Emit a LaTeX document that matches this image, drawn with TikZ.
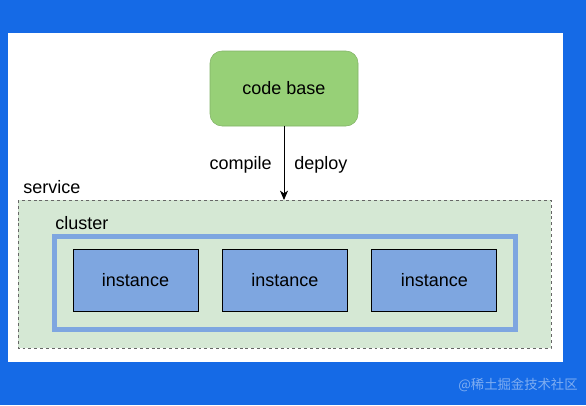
\documentclass[tikz,border=0pt]{standalone}
\usepackage{fontspec}
\setmainfont{Liberation Sans}
\newfontfamily\cjk{Noto Sans CJK SC}
\usetikzlibrary{arrows.meta,positioning}

\definecolor{bgblue}{RGB}{21,106,230}
\definecolor{codegreen}{HTML}{97D077}
\definecolor{codeline}{HTML}{82B366}
\definecolor{svcgreen}{HTML}{D5E8D4}
\definecolor{instblue}{HTML}{7EA6E0}

\tikzset{
	txt/.style={inner sep=0pt, font=\fontsize{13.5}{16}\selectfont},
	codebox/.style={draw=codeline, fill=codegreen, rounded corners=9pt, minimum width=111pt, minimum height=56.25pt, txt},
	instbox/.style={draw=black, line width=0.75pt, fill=instblue, minimum width=93.75pt, minimum height=46.5pt, txt},
}

\begin{document}
\begin{tikzpicture}[x=0.75pt,y=0.75pt,yscale=-1,xscale=1]
	%set diagram size 586 x 405
	\fill [bgblue] (0,0) rectangle (586,405);
	\useasboundingbox (0,0) rectangle (586,405);

	% White sheet
	\fill [white] (8,33) rectangle (563,362);

	% Service area
	\draw [draw=black!60, fill=svcgreen, line width=0.75pt, dash pattern={on 2.2pt off 2.2pt}] (18,200) rectangle (551,348);
	\coordinate (svctop) at (284,200);
	\node [txt, anchor=base west] (service) at (23,193) {service};

	% Cluster
	\draw [draw=instblue, fill=svcgreen, line width=3.75pt] (54.5,236.5) rectangle (515.5,329.5);
	\node [txt, anchor=base west] (cluster) at (55,229) {cluster};

	% Instances
	\node [instbox] (inst1) at (135.5,280) {instance};
	\node [instbox, right=17.6pt of inst1] (inst2) {instance};
	\node [instbox, right=17.6pt of inst2] (inst3) {instance};

	% Code base
	\node [codebox] (code) at (284,88.5) {code base};

	% Connection
	\draw [line width=0.75pt, -{Stealth[length=7pt,width=6pt,inset=2pt]}] (code.south) -- (svctop);
	\node [txt, anchor=base east] (compile) at (272,169) {compile};
	\node [txt, anchor=base west] (deploy) at (294,169) {deploy};

	% Watermark
	\node [inner sep=0pt, text=white, text opacity=0.45, font=\cjk\fontsize{10}{12}\selectfont] (mark) at (518,385) {@稀土掘金技术社区};
\end{tikzpicture}
\end{document}
